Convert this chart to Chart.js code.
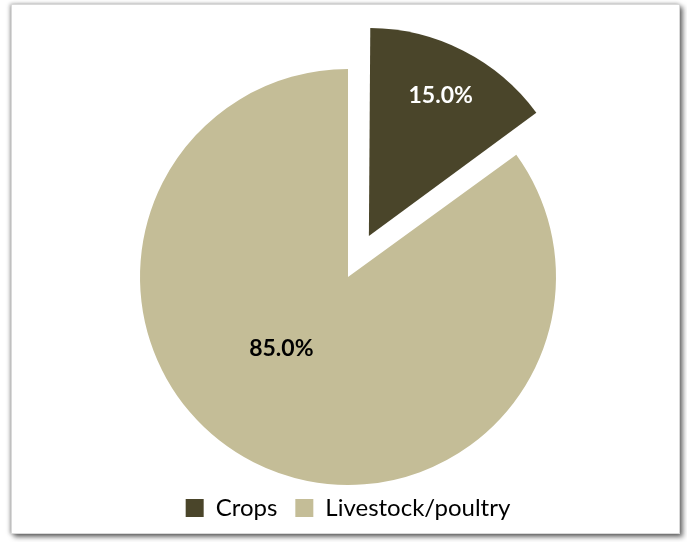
<!DOCTYPE html>
<html>
<head>
<meta charset="utf-8">
<script src="https://cdn.jsdelivr.net/npm/chart.js@4"></script>
<style>
  html, body { margin: 0; padding: 0; background: #fff; }
  #wrap { position: relative; width: 687px; height: 542px; }
  #frame {
    position: absolute; left: 11px; top: 4px; width: 667px; height: 528px;
    border: 1px solid #d9d9d9;
    box-shadow: 3px 3px 5px rgba(0,0,0,0.55), -1px 0 4px rgba(0,0,0,0.35);
    background: #fff;
  }
  canvas { position: absolute; left: 0; top: 0; }
</style>
</head>
<body>
<div id="wrap">
  <div id="frame"></div>
  <canvas id="pieChart" width="687" height="542"></canvas>
</div>
<script>
const categories = ['Crops', 'Livestock/poultry'];
const shares = [15.0, 85.0];
const sliceColors = ['#4A452A', '#C4BD97'];

const PIE_RADIUS = 208;
const CROPS_OFFSET = 184; // Chart.js moves an arc by offset/4

// keep the exploded slice the same radius as the rest of the pie
const keepRadius = {
  id: 'keepRadius',
  beforeDatasetsDraw(chart) {
    chart.getDatasetMeta(0).data.forEach(arc => {
      const off = (arc.options.offset || 0) / 4;
      const fix = 1 - Math.sin(Math.min(Math.PI, arc.circumference));
      arc.outerRadius = PIE_RADIUS - off * fix;
    });
  }
};

// percentage labels inside the slices
const sliceLabels = {
  id: 'sliceLabels',
  afterDatasetsDraw(chart) {
    const ctx = chart.ctx;
    const place = [
      { frac: 0.76, turn: 0, color: '#ffffff' },
      { frac: 0.47, turn: 16, color: '#000000' }
    ];
    chart.getDatasetMeta(0).data.forEach((arc, i) => {
      const mid = (arc.startAngle + arc.endAngle) / 2;
      const off = (arc.options.offset || 0) / 4;
      const a = mid + place[i].turn * Math.PI / 180;
      const x = arc.x + Math.cos(mid) * off + Math.cos(a) * PIE_RADIUS * place[i].frac;
      const y = arc.y + Math.sin(mid) * off + Math.sin(a) * PIE_RADIUS * place[i].frac;
      ctx.save();
      ctx.font = 'bold 23px Lato, "Open Sans", sans-serif';
      ctx.fillStyle = place[i].color;
      ctx.textAlign = 'center';
      ctx.textBaseline = 'middle';
      ctx.fillText(shares[i].toFixed(1) + '%', x, y);
      ctx.restore();
    });
  }
};

const ctx = document.getElementById('pieChart').getContext('2d');
new Chart(ctx, {
  type: 'pie',
  data: {
    labels: categories,
    datasets: [{
      data: shares,
      backgroundColor: sliceColors,
      borderWidth: 0,
      offset: [CROPS_OFFSET, 0]
    }]
  },
  options: {
    responsive: false,
    animation: false,
    radius: PIE_RADIUS,
    layout: { padding: { left: 9, right: 0, top: 76, bottom: 12 } },
    plugins: {
      tooltip: { enabled: false },
      legend: {
        position: 'bottom',
        labels: {
          color: '#000',
          boxWidth: 18,
          boxHeight: 18,
          padding: 18,
          font: { family: 'Lato, "Open Sans", sans-serif', size: 24 }
        }
      }
    }
  },
  plugins: [keepRadius, sliceLabels]
});
</script>
</body>
</html>
